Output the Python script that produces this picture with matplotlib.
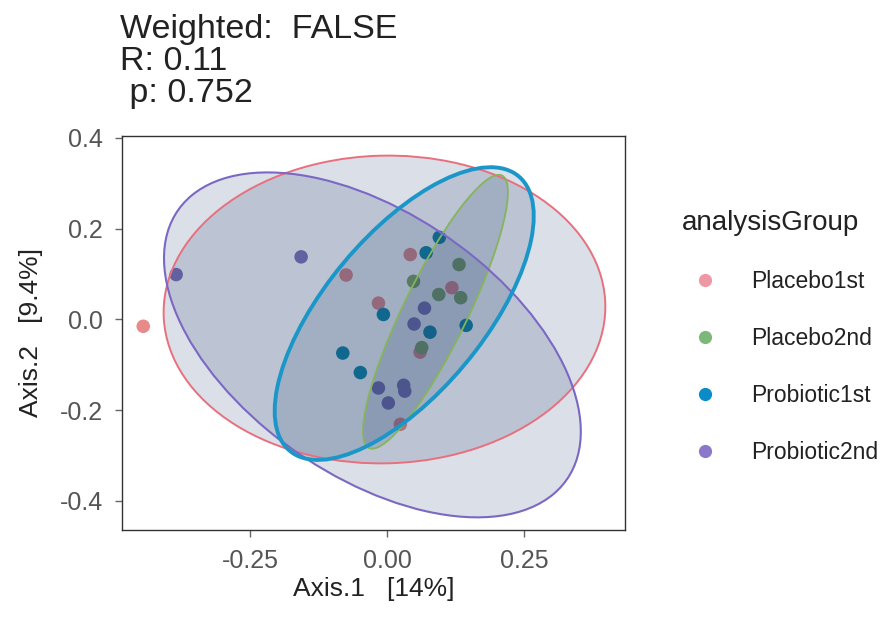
import matplotlib
matplotlib.use("Agg")
import matplotlib.pyplot as plt
from matplotlib.patches import Ellipse
from matplotlib.lines import Line2D

plt.rcParams['font.family'] = ['Liberation Sans', 'DejaVu Sans']

groups = ['Placebo1st', 'Placebo2nd', 'Probiotic1st', 'Probiotic2nd']
colors = ['#e8707e', '#86b45a', '#1a96c8', '#7a68c4']
legend_colors = ['#ee98a4', '#7db87a', '#0a8cc8', '#8c78c8']
dot_colors = ['#e88a8a', '#7fa860', '#0a88a8', '#7e70b8']

# PCoA coordinates
placebo1_x = [-0.445, -0.075, 0.042, -0.016, 0.118, 0.060, 0.024]
placebo1_y = [-0.015, 0.098, 0.143, 0.036, 0.070, -0.072, -0.231]
placebo2_x = [0.131, 0.048, 0.094, 0.134, 0.063]
placebo2_y = [0.121, 0.084, 0.055, 0.048, -0.062]
probiotic1_x = [0.095, 0.071, -0.007, 0.078, 0.144, -0.081, -0.049]
probiotic1_y = [0.181, 0.147, 0.011, -0.028, -0.013, -0.074, -0.117]
probiotic2_x = [-0.385, -0.157, 0.068, 0.049, -0.016, 0.030, 0.032, 0.002]
probiotic2_y = [0.099, 0.138, 0.025, -0.010, -0.151, -0.145, -0.158, -0.184]

xs = [placebo1_x, placebo2_x, probiotic1_x, probiotic2_x]
ys = [placebo1_y, placebo2_y, probiotic1_y, probiotic2_y]

# stat_ellipse shapes: centre, semi-axes and angle (data units, degrees)
ell_cx = [-0.005, 0.088, 0.031, -0.027]
ell_cy = [0.022, 0.017, 0.013, -0.056]
ell_a = [0.403, 0.324, 0.369, 0.466]
ell_b = [0.339, 0.060, 0.154, 0.268]
ell_angle = [3, 68.3, 57.7, -45]
ell_lw = [1.4, 1.3, 2.8, 1.5]

fig = plt.figure(figsize=(8.83, 6.18), dpi=100)
ax = fig.add_axes([0.138, 0.1424, 0.570, 0.638])

for i in range(len(groups)):
    ax.scatter(xs[i], ys[i], s=95, color=dot_colors[i], edgecolors='none', zorder=2)

for i in range(len(groups)):
    ax.add_patch(Ellipse((ell_cx[i], ell_cy[i]), 2 * ell_a[i], 2 * ell_b[i], angle=ell_angle[i],
                         facecolor=(0.12, 0.24, 0.42, 0.16), edgecolor='none', zorder=3))
for i in [0, 1, 3, 2]:
    ax.add_patch(Ellipse((ell_cx[i], ell_cy[i]), 2 * ell_a[i], 2 * ell_b[i], angle=ell_angle[i],
                         facecolor='none', edgecolor=colors[i], linewidth=ell_lw[i], zorder=4))

ax.set_xlim(-0.484, 0.434)
ax.set_ylim(-0.464, 0.405)
ax.set_xticks([-0.25, 0.0, 0.25])
ax.set_xticklabels(['-0.25', '0.00', '0.25'])
ax.set_yticks([-0.4, -0.2, 0.0, 0.2, 0.4])
ax.set_yticklabels(['-0.4', '-0.2', '0.0', '0.2', '0.4'])
ax.tick_params(labelsize=18, colors='#666666', length=5, width=1, pad=8.5, labelcolor='#555555')
for sp in ax.spines.values():
    sp.set_color('#333333')
    sp.set_linewidth(1.0)

ax.set_xlabel('Axis.1   [14%]', fontsize=19, color='#222222', labelpad=3)
ax.set_ylabel('Axis.2   [9.4%]', fontsize=19, color='#222222', labelpad=12)

fig.text(0.136, 0.977, 'Weighted:  FALSE\nR: 0.11\n p: 0.752', fontsize=24.5, color='#222222',
         ha='left', va='top', linespacing=1.04)

handles = [Line2D([], [], marker='o', linestyle='none', markersize=9.5, color=c, markeredgewidth=0)
           for c in legend_colors]
leg = ax.legend(handles, groups, title='analysisGroup', loc='upper left',
                bbox_to_anchor=(1.113, 0.8124), frameon=False, fontsize=16.5,
                title_fontsize=20, labelspacing=1.49, handletextpad=1.0,
                borderaxespad=0, borderpad=0)
leg._legend_box.align = 'left'
for t in leg.get_texts():
    t.set_color('#222222')
leg.get_title().set_color('#222222')

fig.savefig('out.png', dpi=100)
